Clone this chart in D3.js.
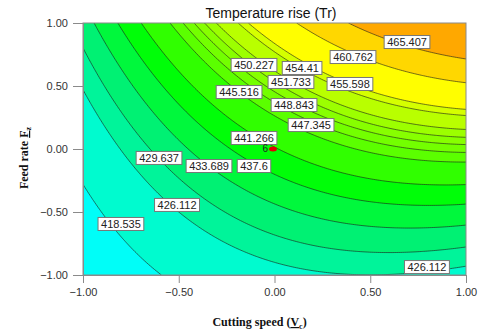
<!DOCTYPE html>
<html>
<head>
<meta charset="utf-8">
<script src="https://cdn.jsdelivr.net/npm/d3@7"></script>
<style>
  body { margin: 0; background: #fff; }
  svg { display: block; }
</style>
</head>
<body>
<svg id="chart" width="480" height="335"></svg>
<script>
// quadratic response surface, coded units: b0, V, F, V*F, V^2, F^2
const coefs = [441, 13.35, 17, 7, -6.35, 0.5];
// contour levels drawn on the plot
const levels = [418.535, 426.112, 429.637, 433.689, 437.6, 441.266, 445.516, 447.345,
  448.843, 450.227, 451.733, 454.41, 455.598, 460.762, 465.407];
// contour labels (value + where it sits, coded units)
const labelLevels = [465.407, 460.762, 454.41, 450.227, 451.733, 455.598, 445.516, 448.843,
  447.345, 441.266, 429.637, 433.689, 437.6, 426.112, 418.535, 426.112];
const labelV = [0.692, 0.41, 0.144, -0.107, 0.086, 0.394, -0.185, 0.102,
  0.191, -0.107, -0.603, -0.342, -0.107, -0.509, -0.802, 0.796];
const labelF = [0.849, 0.73, 0.643, 0.667, 0.532, 0.516, 0.452, 0.349,
  0.19, 0.087, -0.071, -0.135, -0.135, -0.444, -0.595, -0.937];
// design point (centre runs)
const designV = [0];
const designF = [0];
const designCount = ["6"];
const xTicks = [-1, -0.5, 0, 0.5, 1];
const yTicks = [-1, -0.5, 0, 0.5, 1];

const width = 480, height = 335;
const margin = {top: 23, right: 14, bottom: 60, left: 83};

const svg = d3.select("#chart");
const x = d3.scaleLinear().domain([-1, 1]).range([margin.left, width - margin.right]);
const y = d3.scaleLinear().domain([-1, 1]).range([height - margin.bottom, margin.top]);

const model = (v, f) => coefs[0] + coefs[1]*v + coefs[2]*f + coefs[3]*v*f + coefs[4]*v*v + coefs[5]*f*f;

// grid for the contours
const n = 200, m = 140;
const values = new Array(n*m);
for (let j = 0; j < m; j++) {
  for (let i = 0; i < n; i++) {
    values[j*n + i] = model(-1 + 2*i/(n-1), 1 - 2*j/(m-1));
  }
}

const color = d3.scaleLinear()
  .domain([414, 422, 431, 440, 458, 470])
  .range(["#00ffff", "#00fbd2", "#00f07c", "#00ff00", "#ffff00", "#ffa000"])
  .clamp(true);

const bandEdges = [d3.min(values), ...levels, d3.max(values)];
const bandColor = k => color((bandEdges[k] + bandEdges[k+1]) / 2);

const toPx = d3.geoTransform({
  point: function(cx, cy) {
    this.stream.point(x(-1 + 2*(cx - 0.5)/(n-1)), y(1 - 2*(cy - 0.5)/(m-1)));
  }
});
const path = d3.geoPath(toPx);

svg.append("clipPath").attr("id", "plotClip")
  .append("rect")
  .attr("x", margin.left).attr("y", margin.top)
  .attr("width", width - margin.left - margin.right)
  .attr("height", height - margin.top - margin.bottom);

const plot = svg.append("g").attr("clip-path", "url(#plotClip)");

plot.append("rect")
  .attr("x", margin.left).attr("y", margin.top)
  .attr("width", width - margin.left - margin.right)
  .attr("height", height - margin.top - margin.bottom)
  .attr("fill", bandColor(0));

const contours = d3.contours().size([n, m]).thresholds(levels)(values);

plot.selectAll("path.band")
  .data(contours)
  .join("path")
  .attr("class", "band")
  .attr("d", path)
  .attr("fill", (d, k) => bandColor(k + 1))
  .attr("stroke", "none");

plot.selectAll("path.line")
  .data(contours)
  .join("path")
  .attr("class", "line")
  .attr("d", path)
  .attr("fill", "none")
  .attr("stroke", "#1a1a1a")
  .attr("stroke-opacity", 0.8)
  .attr("stroke-width", 0.75);

// frame
svg.append("rect")
  .attr("x", margin.left).attr("y", margin.top)
  .attr("width", width - margin.left - margin.right)
  .attr("height", height - margin.top - margin.bottom)
  .attr("fill", "none")
  .attr("stroke", "#8a8a8a")
  .attr("stroke-width", 1);

// axes
const fmt = d3.format(".2f");
const xAxis = svg.append("g")
  .attr("transform", `translate(0,${height - margin.bottom})`)
  .call(d3.axisBottom(x).tickValues(xTicks).tickFormat(fmt).tickSize(8).tickPadding(5));
const yAxis = svg.append("g")
  .attr("transform", `translate(${margin.left},0)`)
  .call(d3.axisLeft(y).tickValues(yTicks).tickFormat(fmt).tickSize(10).tickPadding(5));

[xAxis, yAxis].forEach(g => {
  g.select(".domain").attr("stroke", "#8a8a8a");
  g.selectAll(".tick line").attr("stroke", "#8a8a8a");
  g.selectAll(".tick text")
    .attr("fill", "#333")
    .style("font-family", "Arial, 'Liberation Sans', sans-serif")
    .style("font-size", "11px");
});

// contour labels
const labels = svg.append("g")
  .style("font-family", "Arial, 'Liberation Sans', sans-serif")
  .style("font-size", "11px");

labelLevels.forEach((lv, k) => {
  const g = labels.append("g")
    .attr("transform", `translate(${x(labelV[k])},${y(labelF[k])})`);
  const t = g.append("text")
    .attr("text-anchor", "middle")
    .attr("dy", "0.36em")
    .attr("fill", "#222")
    .text(lv);
  const w = t.node().getComputedTextLength();
  g.insert("rect", "text")
    .attr("x", -w/2 - 3).attr("y", -6.5)
    .attr("width", w + 6).attr("height", 13)
    .attr("fill", "#fff")
    .attr("stroke", "#777")
    .attr("stroke-width", 1);
});

// design point
designV.forEach((v, k) => {
  svg.append("ellipse")
    .attr("cx", x(v) - 1.5).attr("cy", y(designF[k]))
    .attr("rx", 4).attr("ry", 2.5)
    .attr("fill", "#e00000");
  svg.append("text")
    .attr("x", x(v) - 6.5).attr("y", y(designF[k]) + 3)
    .attr("text-anchor", "end")
    .style("font-family", "Arial, 'Liberation Sans', sans-serif")
    .style("font-size", "10px")
    .attr("fill", "#222")
    .text(designCount[k]);
});

// titles
svg.append("text")
  .attr("x", 271).attr("y", 18)
  .attr("text-anchor", "middle")
  .style("font-family", "Arial, 'Liberation Sans', sans-serif")
  .style("font-size", "14px")
  .attr("fill", "#111")
  .text("Temperature rise (Tr)");

const xTitle = svg.append("text")
  .attr("x", (margin.left + width - margin.right) / 2 - 15).attr("y", 326)
  .attr("text-anchor", "middle")
  .style("font-family", "'Liberation Serif', 'Times New Roman', serif")
  .style("font-weight", "bold")
  .style("font-size", "12px")
  .attr("fill", "#111");
xTitle.append("tspan").text("Cutting speed (");
xTitle.append("tspan").attr("text-decoration", "underline").text("V");
xTitle.append("tspan").attr("font-size", "8px").attr("dy", 3).text("c");
xTitle.append("tspan").attr("dy", -3).text(")");

const yTitle = svg.append("text")
  .attr("transform", "translate(28,158) rotate(-90)")
  .attr("text-anchor", "middle")
  .style("font-family", "'Liberation Serif', 'Times New Roman', serif")
  .style("font-weight", "bold")
  .style("font-size", "12px")
  .attr("fill", "#111");
yTitle.append("tspan").text("Feed rate ");
yTitle.append("tspan").attr("text-decoration", "underline").text("F");
yTitle.append("tspan").attr("font-size", "8px").attr("dy", 3).text("z");
</script>
</body>
</html>
